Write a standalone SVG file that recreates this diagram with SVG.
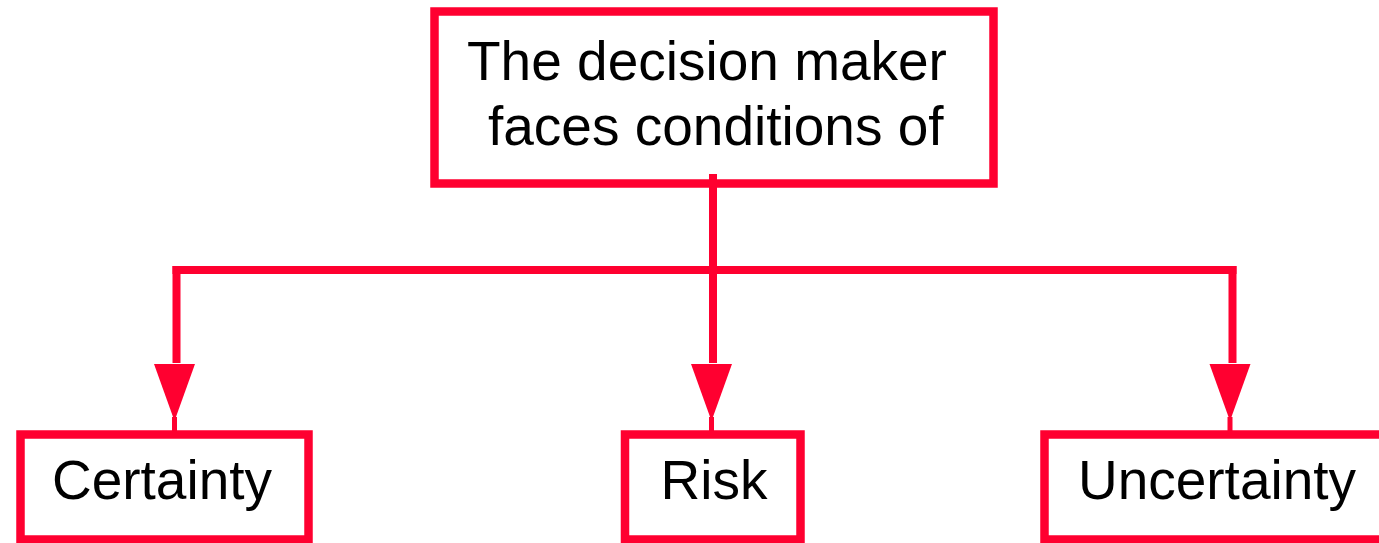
<svg xmlns="http://www.w3.org/2000/svg" xmlns:xlink="http://www.w3.org/1999/xlink" width="1379" height="543" viewBox="0 0 1379 543">
  <style>
    .box { fill: #ffffff; stroke: #ff0030; stroke-width: 8.5; }
    .line { fill: none; stroke: #ff0030; stroke-width: 8; stroke-linecap: butt; stroke-linejoin: miter; }
    .head { fill: #ff0030; stroke: none; }
    .label { font-family: "Liberation Sans", Arial, sans-serif; font-size: 55px; fill: #000000; }
  </style>
  <defs>
    <g id="arrow">
      <polygon class="head" points="-20.5,-67 20.5,-67 0,-10"/>
      <rect class="head" x="-2.5" y="-14" width="5" height="14"/>
    </g>
  </defs>
  <rect x="0" y="0" width="1379" height="543" fill="#ffffff"/>

  <g id="node-top">
    <rect class="box" x="434.5" y="11.5" width="559" height="172"/>
    <text class="label" x="467" y="80">The decision maker</text>
    <text class="label" x="488" y="145">faces conditions of</text>
  </g>

  <g id="node-certainty">
    <rect class="box" x="20.5" y="434.5" width="288" height="105"/>
    <text class="label" x="162" y="499" text-anchor="middle">Certainty</text>
  </g>

  <g id="node-risk">
    <rect class="box" x="625" y="434.5" width="175.5" height="105"/>
    <text class="label" x="714" y="499" text-anchor="middle">Risk</text>
  </g>

  <g id="node-uncertainty">
    <rect class="box" x="1044.5" y="434.5" width="345" height="105"/>
    <text class="label" x="1217" y="499" text-anchor="middle">Uncertainty</text>
  </g>

  <g id="connectors">
    <path class="line" d="M713,174 L713,363"/>
    <path class="line" d="M172.5,270 L1236.5,270"/>
    <path class="line" d="M176.5,266 L176.5,363"/>
    <path class="line" d="M1232.5,266 L1232.5,363"/>
    <use xlink:href="#arrow" transform="translate(174.5,431)"/>
    <use xlink:href="#arrow" transform="translate(711.5,431)"/>
    <use xlink:href="#arrow" transform="translate(1230,431)"/>
  </g>
</svg>
